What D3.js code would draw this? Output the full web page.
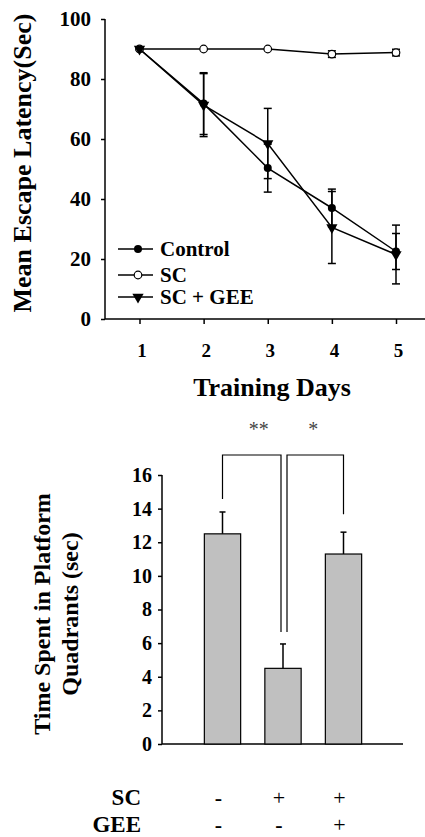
<!DOCTYPE html>
<html>
<head>
<meta charset="utf-8">
<script src="https://cdn.jsdelivr.net/npm/d3@7"></script>
<style>
  body { margin: 0; background: #fff; }
  svg { display: block; }
  svg text { font-family: "Liberation Serif", "DejaVu Serif", serif !important; }
  .axis text { font-weight: bold; fill: #000; }
  .axis line { stroke: #000; stroke-width: 1.5; }
</style>
</head>
<body>
<div class="chart"></div>
<script>
const width = 425;
const height = 837;

// line chart data (escape latency, sec)
const days = [1, 2, 3, 4, 5];
const controlMean = [90, 71.8, 50.3, 37, 22.5];
const controlErr = [0, 10.3, 8, 6.3, 6];
const scMean = [90, 90, 90, 88.3, 88.8];
const scErr = [0, 0, 0, 1.1, 1.1];
const geeMean = [90, 71.3, 58.5, 30.5, 21.5];
const geeErr = [0, 10.5, 11.7, 12, 9.8];
const latencyTicks = [0, 20, 40, 60, 80, 100];

// bar chart data (time in platform quadrant, sec)
const groups = ['Control', 'SC', 'SC + GEE'];
const timeMean = [12.5, 4.5, 11.3];
const timeErr = [1.3, 1.45, 1.3];
const timeTicks = [0, 2, 4, 6, 8, 10, 12, 14, 16];
const scRow = ['-', '+', '+'];
const geeRow = ['-', '-', '+'];

const svg = d3.select('.chart').append('svg')
    .attr('width', width)
    .attr('height', height)
    .attr('viewBox', `0 0 ${width} ${height}`);

/*      Top chart: escape latency       */
const x1 = d3.scaleLinear().domain([1, 5]).range([139.5, 396]);
const y1 = d3.scaleLinear().domain([0, 100]).range([319, 19]);

svg.append('line')
    .attr('x1', 105).attr('x2', 425)
    .attr('y1', y1(0)).attr('y2', y1(0))
    .attr('stroke', '#000').attr('stroke-width', 1.5);
svg.append('line')
    .attr('x1', 105).attr('x2', 105)
    .attr('y1', y1(0)).attr('y2', y1(100))
    .attr('stroke', '#000').attr('stroke-width', 1.5);

svg.append('g')
    .attr('class', 'axis')
    .attr('transform', `translate(0, ${y1(0)})`)
    .call(d3.axisBottom(x1).tickValues(days).tickFormat(d3.format('d')).tickSize(5).tickPadding(20))
    .attr('font-size', 19)
    .call(g => g.select('.domain').remove())
    .call(g => g.selectAll('text').attr('dx', 2));

svg.append('g')
    .attr('class', 'axis')
    .attr('transform', 'translate(105, 0)')
    .call(d3.axisLeft(y1).tickValues(latencyTicks).tickSize(4).tickPadding(10))
    .attr('font-size', 21)
    .call(g => g.select('.domain').remove());

svg.append('text')
    .attr('transform', 'translate(22, 163) rotate(-90)')
    .attr('text-anchor', 'middle')
    .attr('dominant-baseline', 'central')
    .attr('font-size', 26).attr('font-weight', 'bold')
    .text('Mean Escape Latency(Sec)');

svg.append('text')
    .attr('x', 272).attr('y', 396)
    .attr('text-anchor', 'middle')
    .attr('font-size', 26).attr('font-weight', 'bold')
    .text('Training Days');

const series = [
    { name: 'Control', mean: controlMean, err: controlErr, marker: 'dot' },
    { name: 'SC', mean: scMean, err: scErr, marker: 'open' },
    { name: 'SC + GEE', mean: geeMean, err: geeErr, marker: 'tri' }
];

const line = d3.line().x((d, i) => x1(days[i])).y(d => y1(d));

function drawMarker(g, type, cx, cy) {
    if (type === 'dot') {
        g.append('circle').attr('cx', cx).attr('cy', cy).attr('r', 4).attr('fill', '#000');
    } else if (type === 'open') {
        g.append('circle').attr('cx', cx).attr('cy', cy).attr('r', 3.8)
            .attr('fill', '#fff').attr('stroke', '#000').attr('stroke-width', 1.2);
    } else {
        g.append('path')
            .attr('d', d3.symbol().type(d3.symbolTriangle).size(55))
            .attr('transform', `translate(${cx}, ${cy}) rotate(180)`)
            .attr('fill', '#000');
    }
}

series.forEach(s => {
    const g = svg.append('g');
    g.append('path')
        .attr('d', line(s.mean))
        .attr('fill', 'none').attr('stroke', '#000').attr('stroke-width', 1.5);
    s.mean.forEach((m, i) => {
        const e = s.err[i];
        if (e > 0) {
            const cx = x1(days[i]);
            g.append('line').attr('x1', cx).attr('x2', cx)
                .attr('y1', y1(m - e)).attr('y2', y1(m + e))
                .attr('stroke', '#000').attr('stroke-width', 1.5);
            [m - e, m + e].forEach(v => {
                g.append('line').attr('x1', cx - 4).attr('x2', cx + 4)
                    .attr('y1', y1(v)).attr('y2', y1(v))
                    .attr('stroke', '#000').attr('stroke-width', 1.5);
            });
        }
        drawMarker(g, s.marker, x1(days[i]), y1(m));
    });
});

// legend
const legendY = [249, 275, 297];
series.forEach((s, i) => {
    const g = svg.append('g');
    g.append('line').attr('x1', 118).attr('x2', 153)
        .attr('y1', legendY[i]).attr('y2', legendY[i])
        .attr('stroke', '#000').attr('stroke-width', 1.5);
    drawMarker(g, s.marker, 138, legendY[i]);
    g.append('text')
        .attr('x', 160).attr('y', legendY[i])
        .attr('dominant-baseline', 'central')
        .attr('font-size', 21).attr('font-weight', 'bold')
        .text(s.name);
});

/*      Bottom chart: time in platform quadrant       */
const xb = d3.scaleBand().domain(groups).range([162, 404]).paddingInner(0.4).paddingOuter(0.7);
const y2 = d3.scaleLinear().domain([0, 16]).range([744, 475]);

svg.append('line')
    .attr('x1', 162).attr('x2', 403)
    .attr('y1', y2(0)).attr('y2', y2(0))
    .attr('stroke', '#000').attr('stroke-width', 1.5);
svg.append('line')
    .attr('x1', 162).attr('x2', 162)
    .attr('y1', y2(0)).attr('y2', y2(16))
    .attr('stroke', '#000').attr('stroke-width', 1.5);

svg.append('g')
    .attr('class', 'axis')
    .attr('transform', 'translate(162, 0)')
    .call(d3.axisLeft(y2).tickValues(timeTicks).tickSize(4).tickPadding(6))
    .attr('font-size', 20)
    .call(g => g.select('.domain').remove());

const yTitle = svg.append('text')
    .attr('transform', 'translate(56, 614) rotate(-90)')
    .attr('text-anchor', 'middle')
    .attr('font-size', 24).attr('font-weight', 'bold');
yTitle.append('tspan').attr('x', 0).attr('y', -6).text('Time Spent in Platform');
yTitle.append('tspan').attr('x', 0).attr('y', 22).text('Quadrants (sec)');

const bars = svg.append('g').selectAll('g')
    .data(groups)
    .enter()
    .append('g');
bars.append('line')
    .attr('x1', d => xb(d) + xb.bandwidth() / 2)
    .attr('x2', d => xb(d) + xb.bandwidth() / 2)
    .attr('y1', (d, i) => y2(timeMean[i]))
    .attr('y2', (d, i) => y2(timeMean[i] + timeErr[i]))
    .attr('stroke', '#000').attr('stroke-width', 1.5);
bars.append('line')
    .attr('x1', d => xb(d) + xb.bandwidth() / 2 - 3)
    .attr('x2', d => xb(d) + xb.bandwidth() / 2 + 3)
    .attr('y1', (d, i) => y2(timeMean[i] + timeErr[i]))
    .attr('y2', (d, i) => y2(timeMean[i] + timeErr[i]))
    .attr('stroke', '#000').attr('stroke-width', 1.5);
bars.append('rect')
    .attr('x', d => xb(d))
    .attr('y', (d, i) => y2(timeMean[i]))
    .attr('width', xb.bandwidth())
    .attr('height', (d, i) => y2(0) - y2(timeMean[i]))
    .attr('fill', '#c0c0c0')
    .attr('stroke', '#000').attr('stroke-width', 1.2);

// significance brackets
const cx = d => xb(d) + xb.bandwidth() / 2;
const tip = i => y2(timeMean[i] + timeErr[i]);
const bracketY = 455;
svg.append('path')
    .attr('d', `M${cx(groups[0])},${tip(0) - 13}V${bracketY}H${cx(groups[1]) - 2}V${tip(1) - 12}`)
    .attr('fill', 'none').attr('stroke', '#000').attr('stroke-width', 1.2);
svg.append('path')
    .attr('d', `M${cx(groups[1]) + 4},${tip(1) - 12}V${bracketY}H${cx(groups[2])}V${tip(2) - 18}`)
    .attr('fill', 'none').attr('stroke', '#000').attr('stroke-width', 1.2);
svg.append('text')
    .attr('x', (cx(groups[0]) + cx(groups[1])) / 2 + 6).attr('y', 436)
    .attr('text-anchor', 'middle').attr('font-size', 20).attr('fill', '#444')
    .text('**');
svg.append('text')
    .attr('x', (cx(groups[1]) + cx(groups[2])) / 2).attr('y', 436)
    .attr('text-anchor', 'middle').attr('font-size', 20).attr('fill', '#444')
    .text('*');

// treatment table
const rows = [{ label: 'SC', marks: scRow, y: 797 }, { label: 'GEE', marks: geeRow, y: 824 }];
rows.forEach(r => {
    svg.append('text')
        .attr('x', 141).attr('y', r.y)
        .attr('text-anchor', 'end').attr('dominant-baseline', 'central')
        .attr('font-size', 23).attr('font-weight', 'bold')
        .text(r.label);
    svg.append('g').selectAll('text')
        .data(r.marks)
        .enter()
        .append('text')
        .attr('x', (d, i) => cx(groups[i]) - 4)
        .attr('y', r.y)
        .attr('text-anchor', 'middle').attr('dominant-baseline', 'central')
        .attr('font-size', 22)
        .attr('font-weight', d => d === '-' ? 'bold' : 'normal')
        .text(d => d);
});
</script>
</body>
</html>
